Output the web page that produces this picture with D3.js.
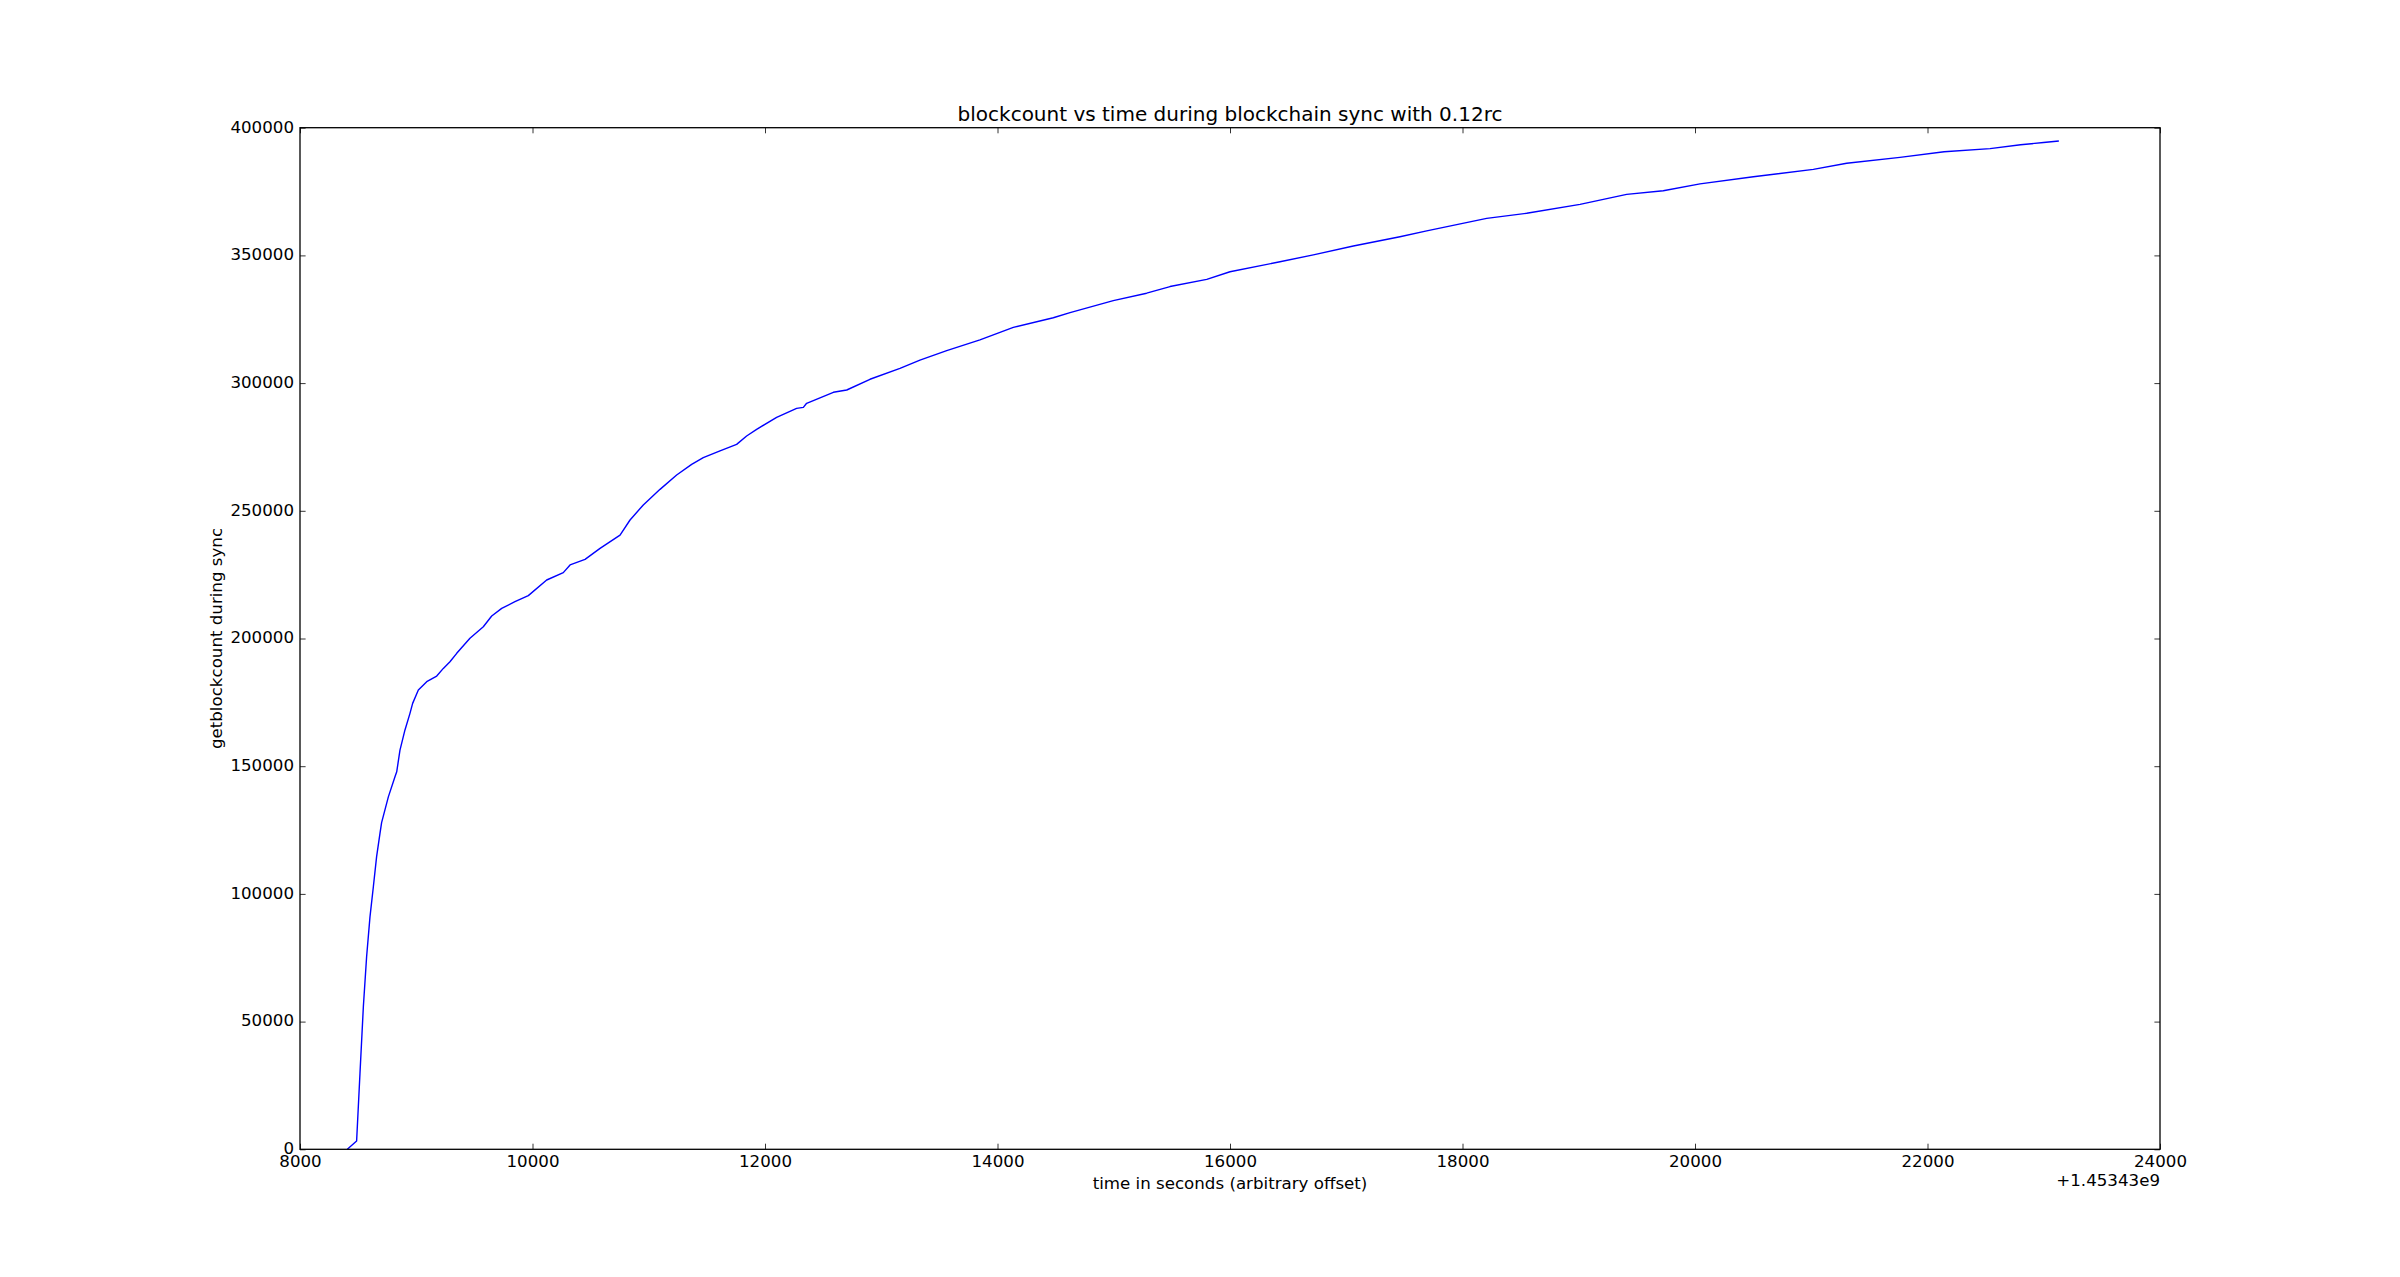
<!DOCTYPE html>
<html>
<head>
<meta charset="utf-8">
<script src="https://cdn.jsdelivr.net/npm/d3@7"></script>
<style>
  html, body { margin: 0; padding: 0; background: #ffffff; }
  svg { display: block; }
  text { font-family: "DejaVu Sans", sans-serif; fill: #000; }
</style>
</head>
<body>
<script>
// ---- data (time in seconds relative to offset 1.45343e9, block count) ----
const timeOffsetLabel = "+1.45343e9";
const times = [
  8407, 8487, 8516, 8545, 8573, 8602, 8631, 8659, 8688, 8702,
  8760, 8817, 8832, 8860, 8903, 8946, 8969, 9018, 9090, 9176,
  9233, 9290, 9348, 9462, 9577, 9649, 9735, 9849, 9964, 10122,
  10265, 10323, 10452, 10581, 10753, 10839, 10953, 11097, 11240, 11369,
  11469, 11613, 11756, 11842, 11928, 12100, 12272, 12330, 12358, 12588,
  12703, 12903, 13161, 13333, 13563, 13849, 14136, 14480, 14624, 14996,
  15283, 15484, 15800, 16000, 16430, 16717, 17061, 17462, 17692, 18208,
  18552, 19011, 19412, 19727, 20043, 20502, 21018, 21305, 21763, 22143,
  22538, 22801, 22998, 23130
];
const blockcounts = [
  0, 3250, 29800, 55800, 75400, 91000, 102800, 114600, 123700, 127900,
  138000, 145900, 147800, 156300, 164200, 170700, 174600, 179800, 183100, 185300,
  188300, 190900, 194200, 200100, 204600, 208800, 211800, 214400, 216800, 222900,
  225800, 228800, 231000, 235300, 240500, 246400, 252300, 258400, 264000, 268200,
  270800, 273500, 276000, 279300, 281900, 286600, 290100, 290500, 292100, 296400,
  297300, 301500, 305800, 309000, 312700, 316900, 321800, 325600, 327600, 332300,
  335200, 337800, 340600, 343600, 347500, 350200, 353700, 357300, 359600, 364500,
  366500, 370000, 373900, 375300, 378000, 380800, 383700, 386100, 388400, 390600,
  391800, 393300, 394200, 394800
];
const xTicks = [8000, 10000, 12000, 14000, 16000, 18000, 20000, 22000, 24000];
const yTicks = [0, 50000, 100000, 150000, 200000, 250000, 300000, 350000, 400000];
const titleText = "blockcount vs time during blockchain sync with 0.12rc";
const xLabelText = "time in seconds (arbitrary offset)";
const yLabelText = "getblockcount during sync";

// ---- layout ----
const W = 2400, H = 1277;
const L = 300, R = 2160, T = 127.7, B = 1149.3;

const svg = d3.select("body").append("svg")
  .attr("width", W).attr("height", H);
svg.append("rect").attr("width", W).attr("height", H).attr("fill", "#fff");

const x = d3.scaleLinear().domain([8000, 24000]).range([L, R]);
const y = d3.scaleLinear().domain([0, 400000]).range([B, T]);

const fs = 16.67;

// line
const data = times.map((t, i) => [t, blockcounts[i]]);
svg.append("path")
  .datum(data)
  .attr("fill", "none")
  .attr("stroke", "#0000ff")
  .attr("stroke-width", 1.4)
  .attr("stroke-linejoin", "round")
  .attr("d", d3.line().x(d => x(d[0])).y(d => y(d[1])));

// axes (inward ticks, matplotlib classic style)
const tickLen = 5.6;
const styleAxis = g => {
  g.select(".domain").remove();
  g.selectAll(".tick line").attr("stroke", "#000").attr("stroke-width", 0.8);
  g.selectAll(".tick text").style("font-family", "DejaVu Sans, sans-serif")
    .style("font-size", fs + "px").attr("fill", "#000");
};

const xAxisB = d3.axisBottom(x).tickValues(xTicks).tickFormat(d3.format("d"))
  .tickSizeInner(-tickLen).tickSizeOuter(0);
svg.append("g").attr("transform", `translate(0,${B})`).call(xAxisB).call(styleAxis)
  .selectAll(".tick text").attr("dy", "0.71em").attr("y", 6);

const xAxisT = d3.axisTop(x).tickValues(xTicks).tickFormat("")
  .tickSizeInner(-tickLen).tickSizeOuter(0);
svg.append("g").attr("transform", `translate(0,${T})`).call(xAxisT).call(styleAxis);

const yAxisL = d3.axisLeft(y).tickValues(yTicks).tickFormat(d3.format("d"))
  .tickSizeInner(-tickLen).tickSizeOuter(0);
svg.append("g").attr("transform", `translate(${L},0)`).call(yAxisL).call(styleAxis)
  .selectAll(".tick text").attr("x", -6).attr("dy", "0.26em");

const yAxisR = d3.axisRight(y).tickValues(yTicks).tickFormat("")
  .tickSizeInner(-tickLen).tickSizeOuter(0);
svg.append("g").attr("transform", `translate(${R},0)`).call(yAxisR).call(styleAxis);

// frame
svg.append("rect")
  .attr("x", L).attr("y", T).attr("width", R - L).attr("height", B - T)
  .attr("fill", "none").attr("stroke", "#000").attr("stroke-width", 1.3);

// offset text
svg.append("text")
  .attr("x", R).attr("y", 1186)
  .attr("text-anchor", "end")
  .style("font-size", fs + "px")
  .text(timeOffsetLabel);

// title
svg.append("text")
  .attr("x", (L + R) / 2).attr("y", 120.5)
  .attr("text-anchor", "middle")
  .style("font-size", "20px")
  .text(titleText);

// x label
svg.append("text")
  .attr("x", (L + R) / 2).attr("y", 1189)
  .attr("text-anchor", "middle")
  .style("font-size", fs + "px")
  .text(xLabelText);

// y label
svg.append("text")
  .attr("transform", `translate(222,${(T + B) / 2}) rotate(-90)`)
  .attr("text-anchor", "middle")
  .style("font-size", fs + "px")
  .text(yLabelText);
</script>
</body>
</html>
